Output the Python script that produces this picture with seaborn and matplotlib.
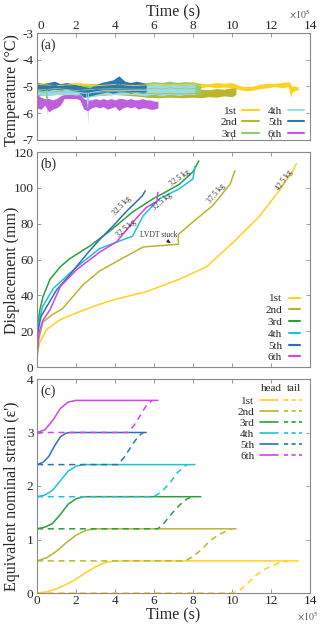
import numpy as np
import pandas as pd
import matplotlib
matplotlib.use('Agg')
import matplotlib.pyplot as plt
import seaborn as sns
from matplotlib.lines import Line2D

sns.set_style('ticks')
plt.rcParams['font.family'] = ['Liberation Serif', 'DejaVu Serif']
plt.rcParams['axes.unicode_minus'] = False
plt.rcParams['mathtext.fontset'] = 'stix'

tests = ['1st', '2nd', '3rd', '4th', '5th', '6th']

# ---------------- (a) temperature envelopes (time in 1e5 s) ----------------
temp_time_1 = [0, 1, 2, 3, 4, 5, 6, 7, 8, 8.4, 8.8, 9.2, 9.6, 10.0, 10.3, 10.6, 11.0, 11.4, 11.8, 12.2, 12.6, 12.9, 13.0, 13.1, 13.25, 13.4]
temp_lo_1 = [-5.0, -5.05, -5.0, -5.05, -5.0, -5.05, -5.0, -5.05, -5.0, -5.05, -5.0, -5.05, -5.02, -5.05, -5.1, -5.15, -5.15, -5.08, -5.05, -5.0, -5.05, -5.0, -5.4, -5.2, -5.15, -5.12]
temp_hi_1 = [-4.85, -4.88, -4.85, -4.9, -4.85, -4.88, -4.85, -4.85, -4.82, -4.88, -4.9, -4.85, -4.88, -4.85, -4.95, -5.0, -5.0, -4.92, -4.88, -4.88, -4.85, -4.82, -4.9, -5.0, -4.98, -5.02]

temp_time_2 = [0, 1, 2, 2.4, 3, 4, 5, 5.6, 6.2, 6.8, 7.4, 8.0, 8.4, 8.8, 9.2, 9.6, 10.0, 10.2]
temp_lo_2 = [-5.35, -5.3, -5.35, -5.4, -5.35, -5.3, -5.35, -5.4, -5.42, -5.4, -5.42, -5.4, -5.42, -5.38, -5.4, -5.35, -5.38, -5.3]
temp_hi_2 = [-5.05, -5.1, -5.05, -5.1, -5.1, -5.05, -5.1, -5.1, -5.15, -5.12, -5.15, -5.12, -5.1, -5.12, -5.08, -5.1, -5.05, -5.05]

temp_time_3 = [0, 0.45, 0.5, 0.55, 1, 2, 3, 4, 5, 5.6, 6.0, 6.4, 6.8, 7.2, 7.6, 8.0, 8.4]
temp_lo_3 = [-5.3, -5.3, -6.1, -5.3, -5.25, -5.35, -5.3, -5.25, -5.3, -5.35, -5.3, -5.35, -5.3, -5.32, -5.3, -5.3, -5.3]
temp_hi_3 = [-4.95, -4.92, -4.95, -4.92, -4.9, -4.95, -4.9, -4.92, -4.9, -4.85, -4.82, -4.85, -4.8, -4.85, -4.82, -4.85, -4.9]

temp_time_4 = [0, 0.5, 1.0, 1.5, 2.0, 2.55, 2.6, 2.65, 3.0, 3.5, 4.0, 4.5, 5.0, 5.5, 5.8, 6.1, 6.4, 6.7, 7.0, 7.3, 7.6, 7.9, 8.1]
temp_lo_4 = [-5.3, -5.35, -5.3, -5.3, -5.35, -5.4, -6.45, -5.4, -5.35, -5.3, -5.3, -5.3, -5.3, -5.35, -5.3, -5.3, -5.35, -5.3, -5.3, -5.35, -5.3, -5.3, -5.3]
temp_hi_4 = [-5.0, -5.05, -5.0, -5.05, -5.1, -5.1, -5.1, -5.1, -5.05, -5.0, -5.0, -5.0, -5.0, -4.95, -4.95, -4.9, -4.95, -4.95, -4.9, -4.95, -4.95, -4.9, -4.95]

temp_time_5 = [0, 0.3, 0.6, 0.9, 1.2, 1.5, 1.8, 2.1, 2.4, 2.7, 3.0, 3.3, 3.6, 3.9, 4.2, 4.5, 4.8, 5.1, 5.4, 5.6]
temp_lo_5 = [-5.15, -5.2, -5.15, -5.1, -5.15, -5.1, -5.15, -5.2, -5.4, -5.35, -5.3, -5.25, -5.2, -5.25, -5.2, -5.2, -5.25, -5.2, -5.25, -5.2]
temp_hi_5 = [-4.85, -4.9, -4.85, -4.8, -4.9, -4.85, -4.9, -4.95, -5.0, -5.05, -4.95, -4.85, -4.8, -4.75, -4.6, -4.8, -4.85, -4.8, -4.85, -4.9]

temp_time_6 = [0, 0.2, 0.4, 0.6, 0.8, 1.0, 1.2, 1.4, 1.6, 1.8, 2.0, 2.2, 2.4, 2.6, 2.8, 3.0, 3.2, 3.4, 3.6, 3.8, 4.0, 4.2, 4.4, 4.6, 4.8, 5.0, 5.2, 5.4, 5.6, 5.8, 6.0, 6.2]
temp_lo_6 = [-5.8, -5.85, -5.7, -5.95, -5.85, -5.8, -5.7, -5.45, -5.45, -5.45, -5.45, -5.5, -5.85, -5.9, -5.8, -5.75, -5.8, -5.75, -5.85, -5.8, -5.75, -5.9, -5.8, -5.75, -5.8, -5.75, -5.85, -5.8, -5.8, -5.85, -5.85, -5.8]
temp_hi_6 = [-5.3, -5.4, -5.45, -5.45, -5.5, -5.45, -5.35, -5.3, -5.3, -5.3, -5.32, -5.3, -5.45, -5.5, -5.5, -5.45, -5.5, -5.45, -5.5, -5.45, -5.5, -5.45, -5.45, -5.5, -5.45, -5.5, -5.5, -5.45, -5.5, -5.5, -5.55, -5.55]

# ---------------- (b) displacement ----------------
disp_time_1 = [0, 0.02, 0.15, 0.5, 1.2, 2.2, 3.2, 4.1, 5.6, 7.3, 8.7, 10.1, 11.4, 12.5, 13.1, 13.3]
disp_val_1 = [0, 8, 14, 21, 26.5, 31, 35, 38, 42, 49, 56, 70, 84, 99.5, 109, 113.5]
disp_time_2 = [0, 0.02, 0.1, 0.3, 0.75, 1.3, 1.5, 2.37, 3.2, 4.1, 4.77, 5.45, 6.15, 7.25, 7.25, 8.0, 9.0, 9.9, 10.15]
disp_val_2 = [0, 9, 16, 25, 29, 32.5, 35, 46, 53.5, 59, 63, 67, 67.6, 68.5, 74, 81, 90, 102, 109.5]
disp_time_3 = [0, 0.02, 0.05, 0.15, 0.3, 0.67, 1.2, 1.7, 2.05, 2.7, 3.75, 4.9, 5.97, 6.65, 7.3, 8.0, 8.3]
disp_val_3 = [0, 14, 24, 32, 39, 49, 56, 60.6, 63, 67.5, 76, 86.5, 94, 98, 102, 109, 115]
disp_time_4 = [0, 0.02, 0.07, 0.3, 0.85, 2.05, 3.2, 4.4, 4.9, 5.45, 6.3, 7.3, 8.0, 8.1]
disp_val_4 = [0, 12, 24, 34, 44, 56, 66, 71, 73, 84.5, 94, 99.5, 105, 112]
disp_time_5 = [0, 0.02, 0.05, 0.2, 0.5, 1.0, 1.7, 2.55, 3.2, 3.9, 4.6, 5.4, 5.55]
disp_val_5 = [0, 12, 20, 28, 33.7, 43, 51.7, 63, 71, 78.7, 87, 95.5, 98.3]
disp_time_6 = [0, 0.02, 0.1, 0.3, 0.67, 1.2, 2.05, 3.2, 4.1, 4.9, 5.6, 6.15, 6.2]
disp_val_6 = [0, 10, 19, 26, 32, 45, 54.5, 64, 70, 80.6, 89, 92.5, 97.5]

# ---------------- (c) equivalent nominal strain ----------------
head_time_1 = [0, 0.5, 1.0, 1.5, 2.0, 2.5, 3.0, 3.5, 4.0, 13.4]
head_val_1 = [0, 0.02, 0.08, 0.16, 0.26, 0.38, 0.49, 0.57, 0.6, 0.6]
head_time_2 = [0, 0.5, 1.0, 1.5, 2.0, 2.5, 3.0, 10.2]
head_val_2 = [0.6, 0.66, 0.78, 0.94, 1.08, 1.17, 1.2, 1.2]
head_time_3 = [0, 0.4, 0.8, 1.2, 1.6, 2.0, 2.4, 8.4]
head_val_3 = [1.2, 1.23, 1.3, 1.47, 1.66, 1.76, 1.8, 1.8]
head_time_4 = [0, 0.4, 0.8, 1.2, 1.6, 2.0, 2.4, 8.1]
head_val_4 = [1.8, 1.83, 1.92, 2.1, 2.28, 2.37, 2.4, 2.4]
head_time_5 = [0, 0.3, 0.6, 0.9, 1.2, 1.5, 1.7, 5.6]
head_val_5 = [2.4, 2.44, 2.55, 2.75, 2.92, 2.99, 3.0, 3.0]
head_time_6 = [0, 0.4, 0.8, 1.2, 1.6, 2.0, 6.2]
head_val_6 = [3.0, 3.05, 3.22, 3.45, 3.57, 3.6, 3.6]

tail_time_1 = [0, 10.0, 10.4, 10.8, 11.2, 11.6, 12.0, 12.4, 12.9]
tail_val_1 = [0, 0, 0.05, 0.18, 0.32, 0.43, 0.5, 0.56, 0.6]
tail_time_2 = [0, 7.6, 8.0, 8.4, 8.8, 9.2, 9.6, 10.0]
tail_val_2 = [0.6, 0.6, 0.68, 0.8, 0.95, 1.06, 1.14, 1.2]
tail_time_3 = [0, 6.2, 6.5, 6.9, 7.3, 7.7, 8.0]
tail_val_3 = [1.2, 1.2, 1.3, 1.48, 1.64, 1.76, 1.8]
tail_time_4 = [0, 6.0, 6.4, 6.8, 7.2, 7.6, 7.7]
tail_val_4 = [1.8, 1.8, 1.9, 2.05, 2.25, 2.38, 2.4]
tail_time_5 = [0, 4.15, 4.5, 4.9, 5.2, 5.45]
tail_val_5 = [2.4, 2.4, 2.55, 2.78, 2.93, 3.0]
tail_time_6 = [0, 4.65, 4.95, 5.3, 5.6, 5.9]
tail_val_6 = [3.0, 3.0, 3.12, 3.32, 3.5, 3.6]

x_ticks = [0, 2, 4, 6, 8, 10, 12, 14]

colors_a = ['#FFD21F', '#B9B62C', '#8CCF76', '#9ADBEA', '#2B77B3', '#BF5FDE']
colors_b = ['#FFD21F', '#B9B62C', '#2E9E3E', '#1EC3D6', '#2A72B5', '#D044EE']

# ---------------- figure ----------------
fig = plt.figure(figsize=(3.2, 6.28), dpi=100)
W, H = 320, 628
L, R = 37, 310
def add_ax(top, bottom):
    return fig.add_axes([L / W, 1 - bottom / H, (R - L) / W, (bottom - top) / H])

ax_a = add_ax(33, 140)
ax_b = add_ax(152, 367)
ax_c = add_ax(379, 593)

spine_col = '#8a8a8a'
for ax in (ax_a, ax_b, ax_c):
    ax.set_xlim(0, 14)
    ax.set_xticks(x_ticks)
    ax.tick_params(direction='in', top=True, right=True, length=3, width=0.6,
                   color=spine_col, labelsize=9.5, pad=1.5)
    ax.tick_params(axis='y', pad=2.5)
    for s in ax.spines.values():
        s.set_color(spine_col)
        s.set_linewidth(0.8)

# (a)
temp_times = [temp_time_1, temp_time_2, temp_time_3, temp_time_4, temp_time_5, temp_time_6]
temp_los = [temp_lo_1, temp_lo_2, temp_lo_3, temp_lo_4, temp_lo_5, temp_lo_6]
temp_his = [temp_hi_1, temp_hi_2, temp_hi_3, temp_hi_4, temp_hi_5, temp_hi_6]
rows = []
for name, tt, lo, hi in zip(tests, temp_times, temp_los, temp_his):
    for t, a, b in zip(tt, lo, hi):
        rows.append((name, t, a))
        rows.append((name, t, b))
df_a = pd.DataFrame(rows, columns=['test', 'time', 'temp'])
for name, c in zip(tests, colors_a):
    sub = df_a[df_a.test == name]
    sns.lineplot(data=sub, x='time', y='temp', color=c, errorbar=('pi', 100),
                 err_kws={'alpha': 1.0, 'linewidth': 0}, linewidth=0.6, ax=ax_a, legend=False)
ax_a.set_ylim(-7, -3)
ax_a.set_yticks([-7, -6, -5, -4, -3])
ax_a.xaxis.tick_top()
ax_a.tick_params(axis='x', labeltop=True, labelbottom=False, bottom=True, top=True, pad=0.5)
ax_a.xaxis.set_label_position('top')
ax_a.set_xlabel('Time (s)', fontsize=11.5, labelpad=3)
ax_a.set_ylabel('Temperature (°C)', fontsize=11.5)
ax_a.yaxis.set_label_coords(-0.064, 0.47)
ax_a.text(0.012, 0.95, '(a)', transform=ax_a.transAxes, fontsize=10, va='top')
fig.canvas.draw()
ax_a.get_xticklabels()[0].set_horizontalalignment('left')
fig.text(289 / W, 1 - 19 / H, r'$\times10^5$', fontsize=7, color='#555555')
h_a = [Line2D([], [], color=c, lw=1.5) for c in colors_a]
ax_a.legend(h_a, tests, ncol=2, loc='lower right', bbox_to_anchor=(1.0, -0.04),
            fontsize=8, frameon=False,
            markerfirst=False, handlelength=1.5, handletextpad=0.5, columnspacing=0.8,
            labelspacing=0.15, borderaxespad=0.1)

# (b)
disp_times = [disp_time_1, disp_time_2, disp_time_3, disp_time_4, disp_time_5, disp_time_6]
disp_vals = [disp_val_1, disp_val_2, disp_val_3, disp_val_4, disp_val_5, disp_val_6]
rows = []
for name, tt, vv in zip(tests, disp_times, disp_vals):
    for i, (t, v) in enumerate(zip(tt, vv)):
        rows.append((name, i, t, v))
df_b = pd.DataFrame(rows, columns=['test', 'order', 'time', 'disp'])
sns.lineplot(data=df_b, x='time', y='disp', hue='test', hue_order=tests, palette=colors_b,
             estimator=None, sort=False, units='test', linewidth=1.1, ax=ax_b, legend=False)
ax_b.set_ylim(0, 120)
ax_b.set_yticks([0, 20, 40, 60, 80, 100, 120])
ax_b.tick_params(labelbottom=False)
ax_b.set_xlabel('')
ax_b.set_ylabel('Displacement (mm)', fontsize=11.5)
ax_b.yaxis.set_label_coords(-0.064, 0.45)
ax_b.text(0.012, 0.975, '(b)', transform=ax_b.transAxes, fontsize=10, va='top')
ann_kw = dict(fontsize=5.5, color='#333333', ha='center', va='center')
ax_b.text(4.34, 89.7, '32.5 kg', rotation=47, **ann_kw)
ax_b.text(7.33, 105.4, '32.5 kg', rotation=36, **ann_kw)
ax_b.text(6.44, 92.4, '32.5 kg', rotation=40, **ann_kw)
ax_b.text(4.56, 77.5, '32.5 kg', rotation=40, **ann_kw)
ax_b.text(9.18, 97.0, '37.5 kg', rotation=50, **ann_kw)
ax_b.text(12.67, 104.0, '42.5 kg', rotation=55, **ann_kw)
ax_b.annotate('LVDT stuck', xy=(6.85, 69.3), xytext=(6.25, 73.5), fontsize=5.5, color='#333333',
              ha='center', va='center',
              arrowprops=dict(arrowstyle='-|>', color='#222222', lw=0.6, mutation_scale=5,
                              shrinkA=0, shrinkB=0))
h_b = [Line2D([], [], color=c, lw=1.5) for c in colors_b]
ax_b.legend(h_b, tests, loc='lower right', bbox_to_anchor=(1.0, -0.025), fontsize=8,
            frameon=False, markerfirst=False,
            handlelength=1.0, handletextpad=0.6, labelspacing=0.18, borderaxespad=0.5)

# (c)
head_times = [head_time_1, head_time_2, head_time_3, head_time_4, head_time_5, head_time_6]
head_vals = [head_val_1, head_val_2, head_val_3, head_val_4, head_val_5, head_val_6]
tail_times = [tail_time_1, tail_time_2, tail_time_3, tail_time_4, tail_time_5, tail_time_6]
tail_vals = [tail_val_1, tail_val_2, tail_val_3, tail_val_4, tail_val_5, tail_val_6]
rows = []
for name, tt, vv in zip(tests, head_times, head_vals):
    for t, v in zip(tt, vv):
        rows.append((name, 'head', t, v))
for name, tt, vv in zip(tests, tail_times, tail_vals):
    for t, v in zip(tt, vv):
        rows.append((name, 'tail', t, v))
df_c = pd.DataFrame(rows, columns=['test', 'end', 'time', 'strain'])
for name, c in zip(tests, colors_b):
    sub = df_c[(df_c.test == name) & (df_c.end == 'head')]
    sns.lineplot(data=sub, x='time', y='strain', color=c, estimator=None, sort=False,
                 linewidth=1.1, ax=ax_c, legend=False)
    sub = df_c[(df_c.test == name) & (df_c.end == 'tail')]
    sns.lineplot(data=sub, x='time', y='strain', color=c, estimator=None, sort=False,
                 linewidth=1.1, linestyle=(0, (4, 3)), ax=ax_c, legend=False)
ax_c.set_ylim(0, 4)
ax_c.set_yticks([0, 1, 2, 3, 4])
ax_c.set_xlabel('Time (s)', fontsize=11.5, labelpad=0)
ax_c.set_ylabel("Equivalent nominal strain (ε')", fontsize=11.5)
ax_c.yaxis.set_label_coords(-0.064, 0.45)
ax_c.text(0.012, 0.975, '(c)', transform=ax_c.transAxes, fontsize=10, va='top')
fig.text(297 / W, 1 - 621 / H, r'$\times10^5$', fontsize=7, color='#555555')
h_head = [Line2D([], [], color=c, lw=1.2) for c in colors_b]
h_tail = [Line2D([], [], color=c, lw=1.2, linestyle=(0, (2.5, 2))) for c in colors_b]
ax_c.legend(h_head + h_tail, tests + [''] * 6, ncol=2, loc='upper right',
            bbox_to_anchor=(1.0, 0.955), fontsize=8, frameon=False, markerfirst=False,
            handlelength=1.6, handletextpad=0.5, columnspacing=0.1, labelspacing=0.1,
            borderaxespad=0.3)
ax_c.text(0.86, 0.955, 'head', transform=ax_c.transAxes, fontsize=8, ha='center', va='center')
ax_c.text(0.94, 0.955, 'tail', transform=ax_c.transAxes, fontsize=8, ha='center', va='center')

fig.savefig('out.png', dpi=100)
